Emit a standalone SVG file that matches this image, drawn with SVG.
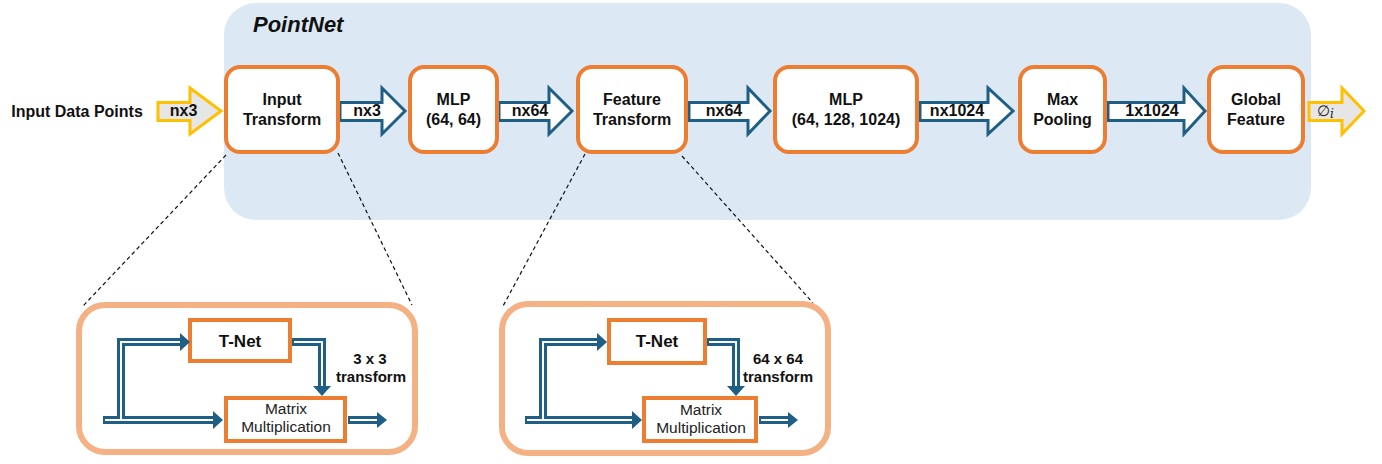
<svg xmlns="http://www.w3.org/2000/svg" width="1382" height="464" viewBox="0 0 1382 464">
  <style>
    .panel { fill: #DCE9F5; }
    .node { fill: #FFFFFF; stroke: #ED7D31; stroke-width: 4; }
    .sub { fill: #FFFFFF; stroke: #F4B183; stroke-width: 6; }
    .inner { fill: #FFFFFF; stroke: #ED7D31; stroke-width: 4; }
    .flow { fill: #FFFFFF; stroke: #1F5F85; stroke-width: 3; stroke-linejoin: miter; }
    .io { fill: #E7E6E6; stroke: #FFC000; stroke-width: 3; stroke-linejoin: miter; }
    .lbl { font-family: "Liberation Sans", Arial, sans-serif; font-weight: bold; font-size: 16px; fill: #111111; text-anchor: middle; }
    .reg { font-family: "Liberation Sans", Arial, sans-serif; font-size: 15.5px; fill: #222222; text-anchor: middle; }
    .small { font-family: "Liberation Sans", Arial, sans-serif; font-weight: bold; font-size: 15px; fill: #111111; text-anchor: middle; }
    .tnet { font-family: "Liberation Sans", Arial, sans-serif; font-weight: bold; font-size: 17px; fill: #111111; text-anchor: middle; }
    .zoomline { fill: none; stroke: #111111; stroke-width: 1.2; stroke-dasharray: 4 3; }
    .band { fill: none; stroke: #1F5F85; stroke-width: 8; stroke-linejoin: miter; stroke-linecap: butt; }
    .core { fill: none; stroke: #FFFFFF; stroke-width: 2; stroke-linejoin: miter; stroke-linecap: butt; }
    .head { fill: #1F5F85; }
  </style>

  <!-- PointNet container -->
  <g id="pointnet-panel">
    <rect class="panel" x="224" y="3" width="1087" height="217" rx="32"/>
    <text x="253" y="32" font-family="Liberation Sans, Arial, sans-serif" font-weight="bold" font-style="italic" font-size="22" fill="#111111">PointNet</text>
  </g>

  <!-- Zoom guide lines -->
  <g id="zoom-guides">
    <line class="zoomline" x1="226" y1="155" x2="83" y2="306"/>
    <line class="zoomline" x1="338" y1="153" x2="412" y2="305"/>
    <line class="zoomline" x1="585" y1="154" x2="502" y2="308"/>
    <line class="zoomline" x1="682" y1="156" x2="813" y2="303"/>
  </g>

  <!-- Pipeline connectors -->
  <g id="connectors">
    <g id="in-arrow">
      <polygon class="io" points="158,102.5 190,102.5 190,88 221,111 190,134 190,120.5 158,120.5"/>
      <text class="lbl" x="183.5" y="116">nx3</text>
    </g>
    <g id="arrow-nx3">
      <polygon class="flow" points="340,102.5 382,102.5 382,88 405,111 382,134 382,120.5 340,120.5"/>
      <text class="lbl" x="367" y="116">nx3</text>
    </g>
    <g id="arrow-nx64-a">
      <polygon class="flow" points="499,102.5 549,102.5 549,88 572,111 549,134 549,120.5 499,120.5"/>
      <text class="lbl" x="530" y="116">nx64</text>
    </g>
    <g id="arrow-nx64-b">
      <polygon class="flow" points="689,102.5 748,102.5 748,88 770,111 748,134 748,120.5 689,120.5"/>
      <text class="lbl" x="724" y="116">nx64</text>
    </g>
    <g id="arrow-nx1024">
      <polygon class="flow" points="920,102.5 988,102.5 988,88 1013,111 988,134 988,120.5 920,120.5"/>
      <text class="lbl" x="957" y="116">nx1024</text>
    </g>
    <g id="arrow-1x1024">
      <polygon class="flow" points="1108,102.5 1184,102.5 1184,88 1205,111 1184,134 1184,120.5 1108,120.5"/>
      <text class="lbl" x="1152" y="116">1x1024</text>
    </g>
    <g id="out-arrow">
      <polygon class="io" points="1309,102.5 1342,102.5 1342,88 1364,111 1342,134 1342,120.5 1309,120.5"/>
      <text x="1317" y="116" font-family="DejaVu Serif, Liberation Serif, serif" font-size="15" fill="#222222">∅<tspan font-style="italic" font-size="12" dy="2">i</tspan></text>
    </g>
  </g>

  <!-- Input label -->
  <g id="input-data-points">
    <text class="lbl" x="77" y="117" font-size="16.5">Input Data Points</text>
  </g>

  <!-- Pipeline nodes -->
  <g id="input-transform">
    <rect class="node" x="226" y="67" width="112" height="85" rx="14"/>
    <text class="lbl" x="282" y="105">Input</text>
    <text class="lbl" x="282" y="125">Transform</text>
  </g>
  <g id="mlp-64-64">
    <rect class="node" x="410" y="67" width="87" height="85" rx="14"/>
    <text class="lbl" x="453.5" y="105">MLP</text>
    <text class="lbl" x="453.5" y="125">(64, 64)</text>
  </g>
  <g id="feature-transform">
    <rect class="node" x="578" y="67" width="108" height="85" rx="14"/>
    <text class="lbl" x="632" y="105">Feature</text>
    <text class="lbl" x="632" y="125">Transform</text>
  </g>
  <g id="mlp-64-128-1024">
    <rect class="node" x="775" y="67" width="142" height="85" rx="14"/>
    <text class="lbl" x="846" y="105">MLP</text>
    <text class="lbl" x="846" y="125">(64, 128, 1024)</text>
  </g>
  <g id="max-pooling">
    <rect class="node" x="1020" y="67" width="85" height="85" rx="14"/>
    <text class="lbl" x="1062.5" y="105">Max</text>
    <text class="lbl" x="1062.5" y="125">Pooling</text>
  </g>
  <g id="global-feature">
    <rect class="node" x="1209" y="67" width="94" height="85" rx="14"/>
    <text class="lbl" x="1256" y="105">Global</text>
    <text class="lbl" x="1256" y="125">Feature</text>
  </g>

  <!-- Input transform detail -->
  <g id="input-transform-detail">
    <rect class="sub" x="79" y="305" width="336" height="147" rx="26"/>
    <rect class="inner" x="190" y="320" width="100" height="41"/>
    <text class="tnet" x="240" y="347">T-Net</text>
    <rect class="inner" x="226" y="398" width="119" height="43"/>
    <text class="reg" x="286" y="414">Matrix</text>
    <text class="reg" x="286" y="432">Multiplication</text>
    <text class="small" x="370" y="364">3 x 3</text>
    <text class="small" x="371" y="382">transform</text>
    <g class="links">
      <path class="band" d="M103,420 H214"/>
      <path class="band" d="M121,420 V342 H181"/>
      <path class="band" d="M292,342 H322 V387"/>
      <path class="band" d="M348,420 H378"/>
      <path class="core" d="M105,420 H214"/>
      <path class="core" d="M121,420 V342 H181"/>
      <path class="core" d="M294,342 H322 V387"/>
      <path class="core" d="M350,420 H378"/>
      <polygon class="head" points="213,411 223,420 213,429"/>
      <polygon class="head" points="180,333 190,342 180,351"/>
      <polygon class="head" points="313,386 322,396 331,386"/>
      <polygon class="head" points="377,412 387,420 377,428"/>
    </g>
  </g>

  <!-- Feature transform detail -->
  <g id="feature-transform-detail">
    <rect class="sub" x="502" y="304" width="326" height="149" rx="26"/>
    <rect class="inner" x="609" y="320" width="96" height="43"/>
    <text class="tnet" x="657" y="347">T-Net</text>
    <rect class="inner" x="644" y="398" width="112" height="43"/>
    <text class="reg" x="701" y="415">Matrix</text>
    <text class="reg" x="701" y="433">Multiplication</text>
    <text class="small" x="778" y="364">64 x 64</text>
    <text class="small" x="778" y="382">transform</text>
    <g class="links">
      <path class="band" d="M525,420 H633"/>
      <path class="band" d="M543,420 V342 H598"/>
      <path class="band" d="M707,342 H736 V387"/>
      <path class="band" d="M759,420 H789"/>
      <path class="core" d="M527,420 H633"/>
      <path class="core" d="M543,420 V342 H598"/>
      <path class="core" d="M709,342 H736 V387"/>
      <path class="core" d="M761,420 H789"/>
      <polygon class="head" points="632,411 642,420 632,429"/>
      <polygon class="head" points="597,333 607,342 597,351"/>
      <polygon class="head" points="727,386 736,396 745,386"/>
      <polygon class="head" points="788,412 798,420 788,428"/>
    </g>
  </g>
</svg>
